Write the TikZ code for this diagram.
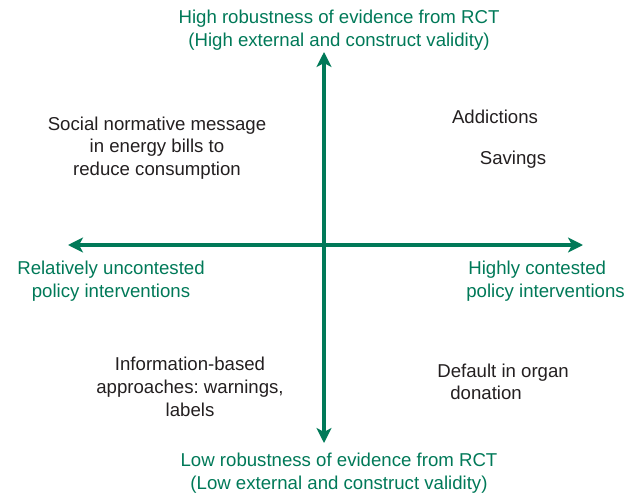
\documentclass[tikz,border=0pt]{standalone}
\usepackage{fontspec}
\setmainfont{Liberation Sans}
\usepackage{tikz}
\usetikzlibrary{arrows.meta}
\definecolor{RCTgreen}{RGB}{0,121,88}
\definecolor{quadgray}{RGB}{35,31,32}
\tikzset{axis/.style={line width=2.6pt, color=RCTgreen, -{Stealth[length=0.30cm, width=0.30cm, inset=0.08cm]}}}
\tikzset{axislabel/.style={color=RCTgreen, align=center, inner sep=0pt, font=\fontsize{10.6}{12.9}\selectfont}}
\tikzset{quadlabel/.style={color=quadgray, align=center, inner sep=0pt, font=\fontsize{10.6}{12.9}\selectfont}}
\frenchspacing

\begin{document}
\begin{tikzpicture}[x=0.02cm, y=-0.02cm]

  \useasboundingbox (0,0) rectangle (634,493);

  % --- axes ---
  \coordinate (O) at (324,245);
  \coordinate (N) at (324,52);
  \coordinate (S) at (324,443);
  \coordinate (W) at (68,245);
  \coordinate (E) at (583,245);

  \draw[axis] (O) -- (N);
  \draw[axis] (O) -- (S);
  \draw[axis] (O) -- (W);
  \draw[axis] (O) -- (E);

  % --- axis labels ---
  \node[axislabel] (high) at (339,30) {High robustness of evidence from RCT\\(High external and construct validity)};
  \node[axislabel] (low) at (339,473) {Low robustness of evidence from RCT\\(Low external and construct validity)};
  \node[axislabel] (uncont) at (111,281) {Relatively uncontested\\policy interventions};
  \node[axislabel, align=left, anchor=west] (cont) at (466,281) {\hspace*{0.04cm}Highly contested\\policy interventions};

  % --- quadrants ---
  \node[quadlabel] (social) at (157,148) {Social normative message\\in energy bills to\\reduce consumption};
  \node[quadlabel] (addict) at (495,117) {Addictions};
  \node[quadlabel] (savings) at (513,160) {Savings};
  \node[quadlabel] (info) at (190,387) {Information-based\\approaches: warnings,\\labels};
  \node[quadlabel, align=left, anchor=west] (organ) at (437,382) {Default in organ\\\hspace*{0.26cm}donation};

\end{tikzpicture}
\end{document}
